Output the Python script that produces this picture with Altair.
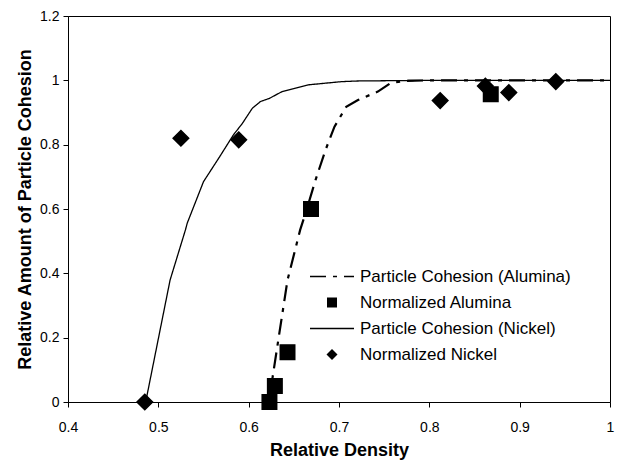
import altair as alt
import pandas as pd

SERIES = ["Particle Cohesion (Alumina)", "Normalized Alumina",
          "Particle Cohesion (Nickel)", "Normalized Nickel"]

# Fitted curves
alumina_curve_x = [0.623, 0.626, 0.643, 0.657, 0.663, 0.674, 0.685, 0.695, 0.708, 0.721, 0.743, 0.757, 0.772, 0.80, 0.85, 0.90, 0.95, 1.00]
alumina_curve_y = [0.0, 0.068, 0.379, 0.535, 0.587, 0.690, 0.783, 0.856, 0.918, 0.939, 0.965, 0.991, 0.998, 1.0, 1.0, 1.0, 1.0, 1.0]
nickel_curve_x = [0.486, 0.513, 0.530, 0.532, 0.550, 0.568, 0.583, 0.593, 0.604, 0.613, 0.623, 0.637, 0.666, 0.703, 0.721, 0.80, 0.90, 1.00]
nickel_curve_y = [0.0, 0.379, 0.535, 0.556, 0.685, 0.763, 0.830, 0.866, 0.913, 0.934, 0.944, 0.965, 0.986, 0.996, 0.998, 1.0, 1.0, 1.0]

# Measured points
alumina_x = [0.623, 0.629, 0.643, 0.669, 0.868]
alumina_y = [0.0, 0.05, 0.155, 0.60, 0.957]
nickel_x = [0.485, 0.525, 0.589, 0.812, 0.862, 0.888, 0.940]
nickel_y = [0.0, 0.82, 0.815, 0.937, 0.982, 0.962, 0.996]

df_al_curve = pd.DataFrame({"x": alumina_curve_x, "y": alumina_curve_y, "series": SERIES[0]})
df_al_pts = pd.DataFrame({"x": alumina_x, "y": alumina_y, "series": SERIES[1]})
df_ni_curve = pd.DataFrame({"x": nickel_curve_x, "y": nickel_curve_y, "series": SERIES[2]})
df_ni_pts = pd.DataFrame({"x": nickel_x, "y": nickel_y, "series": SERIES[3]})

FONT = "Liberation Sans"
LINE_PATH = "M-4.4,0H4.4"
SQUARE_PATH = "M-1,-1H1V1H-1Z"
DIAMOND_PATH = "M0,-1.1L1.1,0L0,1.1L-1.1,0Z"

xenc = alt.X("x:Q", scale=alt.Scale(domain=[0.4, 1.0], nice=False, zero=False),
             axis=alt.Axis(title="Relative Density", values=[0.4, 0.5, 0.6, 0.7, 0.8, 0.9, 1.0],
                           format="~g", grid=False, labelFlush=False))
yenc = alt.Y("y:Q", scale=alt.Scale(domain=[0, 1.2], nice=False),
             axis=alt.Axis(title="Relative Amount of Particle Cohesion",
                           values=[0, 0.2, 0.4, 0.6, 0.8, 1.0, 1.2], format="~g", grid=False,
                           labelFlush=False))


def make_legend(row_y, symbol):
    return alt.Legend(
        title=None, orient="none", legendX=255.5, legendY=row_y,
        symbolType=symbol, symbolSize=100, symbolStrokeColor="black",
        symbolFillColor="black", symbolStrokeWidth=1.4,
        labelOffset=19.5, labelFont=FONT, labelFontSize=17, labelColor="black",
        labelLimit=400,
    )


al_line = alt.Chart(df_al_curve).mark_line(color="black", strokeWidth=2.2).encode(
    x=xenc, y=yenc, order="x:Q",
    strokeDash=alt.StrokeDash("series:N", scale=alt.Scale(domain=[SERIES[0]], range=[[16, 7, 4, 7]]),
                              legend=make_legend(252, LINE_PATH)),
)
al_pts = alt.Chart(df_al_pts).mark_point(
    filled=True, fill="black", stroke="black", strokeWidth=1.5, size=210, opacity=1
).encode(
    x=xenc, y=yenc,
    shape=alt.Shape("series:N", scale=alt.Scale(domain=[SERIES[1]], range=[SQUARE_PATH]),
                    legend=make_legend(278, SQUARE_PATH)),
)
ni_line = alt.Chart(df_ni_curve).mark_line(color="black", strokeWidth=1.3).encode(
    x=xenc, y=yenc, order="x:Q",
    strokeDash=alt.StrokeDash("series:N", scale=alt.Scale(domain=[SERIES[2]], range=[[1, 0]]),
                              legend=make_legend(304, LINE_PATH)),
)
ni_pts = alt.Chart(df_ni_pts).mark_point(
    filled=True, fill="black", stroke="black", strokeWidth=1.5, size=200, opacity=1
).encode(
    x=xenc, y=yenc,
    shape=alt.Shape("series:N", scale=alt.Scale(domain=[SERIES[3]], range=[DIAMOND_PATH]),
                    legend=make_legend(330, DIAMOND_PATH)),
)

chart = alt.layer(al_line, ni_line, al_pts, ni_pts).resolve_scale(
    strokeDash="independent", shape="independent"
).resolve_legend(
    strokeDash="independent", shape="independent"
).properties(
    width=542, height=386,
    autosize=alt.AutoSizeParams(type="none"),
    padding={"left": 60, "top": 8, "right": 5, "bottom": 59},
).configure_view(stroke="black", strokeWidth=1).configure_axis(
    labelFont=FONT, labelFontSize=14, labelColor="black",
    titleFont=FONT, titleFontSize=18, titleFontWeight="bold", titleColor="black",
    domainColor="black", tickColor="black", tickSize=5,
).configure_axisX(labelPadding=13, titlePadding=7).configure_axisY(
    labelPadding=4, titlePadding=5)

chart.save("out.html", embed_options={"renderer": "svg", "actions": False})
